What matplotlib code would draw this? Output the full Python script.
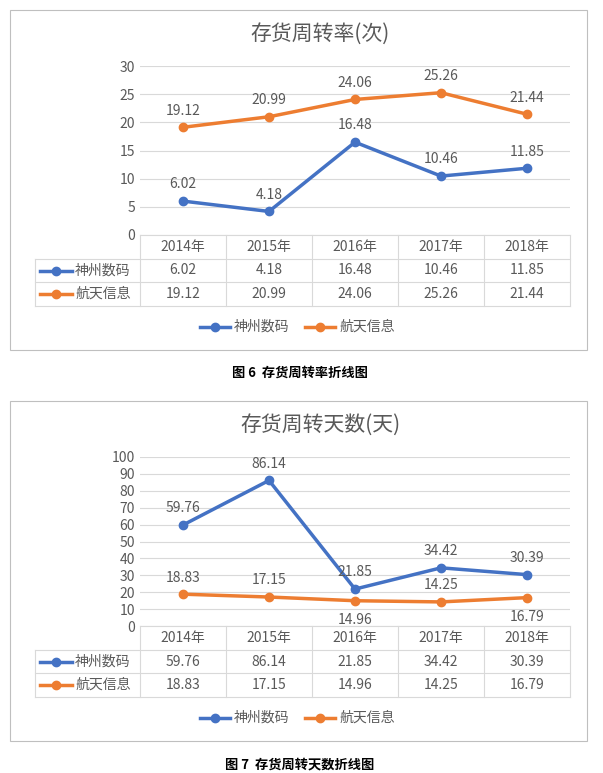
import matplotlib.pyplot as plt
from matplotlib import font_manager
from matplotlib.lines import Line2D

cjk = [f.name for f in font_manager.fontManager.ttflist if 'CJK' in f.name]
plt.rcParams['font.family'] = ['Noto Sans CJK SC'] + sorted(set(cjk)) + ['DejaVu Sans']

years = ['2014年', '2015年', '2016年', '2017年', '2018年']
series_names = ['神州数码', '航天信息']
turnover_sz = [6.02, 4.18, 16.48, 10.46, 11.85]
turnover_ht = [19.12, 20.99, 24.06, 25.26, 21.44]
days_sz = [59.76, 86.14, 21.85, 34.42, 30.39]
days_ht = [18.83, 17.15, 14.96, 14.25, 16.79]

BLUE = '#4472C4'
ORANGE = '#ED7D31'
GRID = '#D9D9D9'
TXT = '#595959'

W, H = 603, 773
fig = plt.figure(figsize=(W / 100, H / 100), dpi=100)


def fx(x):
    return x / W


def fy(y):
    return 1 - y / H


def line(x0, y0, x1, y1, c=GRID, lw=0.8):
    fig.add_artist(Line2D([fx(x0), fx(x1)], [fy(y0), fy(y1)], color=c, lw=lw))


def chart(top, title, s1, s2, ymax, ystep, below2, caption):
    # outer frame
    x0, x1 = 10, 587
    fig.add_artist(plt.Rectangle((fx(x0), fy(top + 340)), fx(x1 - x0), 340 / H,
                                 fill=False, ec='#BFBFBF', lw=0.8))
    fig.text(fx(320), fy(top + 24), title, ha='center', va='center', fontsize=15, color=TXT)
    pt, pb = top + 56, top + 225
    px0, px1 = 140, 570
    ax = fig.add_axes([fx(px0), fy(pb), fx(px1 - px0), (pb - pt) / H])
    ax.set_xlim(-0.5, 4.5)
    ax.set_ylim(0, ymax)
    ax.set_yticks(range(0, ymax + 1, ystep))
    ax.yaxis.grid(True, color=GRID, lw=0.8)
    ax.set_axisbelow(True)
    for s in ax.spines.values():
        s.set_visible(False)
    ax.set_xticks([])
    ax.tick_params(axis='y', length=0, labelsize=10, labelcolor=TXT)
    xs = range(len(years))
    for vals, col, below in [(s1, BLUE, set()), (s2, ORANGE, below2)]:
        ax.plot(xs, vals, color=col, lw=2.5, marker='o', ms=6)
        for i, v in enumerate(vals):
            off = -14 if i in below else 12
            ax.annotate(f'{v:.2f}', (i, v), xytext=(0, off), textcoords='offset points',
                        ha='center', va='center', fontsize=10, color=TXT)
    # data table
    r0, r1, r2, r3 = pb, pb + 24, pb + 47, pb + 71
    tl = 35
    line(px0, r0, px1, r0)
    for y in (r1, r2, r3):
        line(tl, y, px1, y)
    cw = (px1 - px0) / 5
    for k in range(6):
        line(px0 + k * cw, r0, px0 + k * cw, r3)
    line(tl, r1, tl, r3)
    for k, yr in enumerate(years):
        cx = px0 + (k + 0.5) * cw
        fig.text(fx(cx), fy((r0 + r1) / 2), yr, ha='center', va='center', fontsize=10, color=TXT)
        fig.text(fx(cx), fy((r1 + r2) / 2), f'{s1[k]:.2f}', ha='center', va='center', fontsize=10, color=TXT)
        fig.text(fx(cx), fy((r2 + r3) / 2), f'{s2[k]:.2f}', ha='center', va='center', fontsize=10, color=TXT)
    for (ya, yb), col, nm in [((r1, r2), BLUE, series_names[0]), ((r2, r3), ORANGE, series_names[1])]:
        ym = (ya + yb) / 2
        fig.add_artist(Line2D([fx(40), fx(72)], [fy(ym)] * 2, color=col, lw=2.5))
        fig.add_artist(Line2D([fx(56)], [fy(ym)], color=col, marker='o', ms=6))
        fig.text(fx(75), fy(ym), nm, ha='left', va='center', fontsize=10, color=TXT)
    # legend
    ly = top + 317
    for lx, col, nm in [(200, BLUE, series_names[0]), (305, ORANGE, series_names[1])]:
        fig.add_artist(Line2D([fx(lx), fx(lx + 30)], [fy(ly)] * 2, color=col, lw=2.5))
        fig.add_artist(Line2D([fx(lx + 15)], [fy(ly)], color=col, marker='o', ms=6))
        fig.text(fx(lx + 34), fy(ly), nm, ha='left', va='center', fontsize=10, color=TXT)
    fig.text(fx(300), fy(top + 363), caption, ha='center', va='center', fontsize=9.5,
             fontweight='bold', color='black')


chart(10, '存货周转率(次)', turnover_sz, turnover_ht, 30, 5, set(), '图 6  存货周转率折线图')
chart(401, '存货周转天数(天)', days_sz, days_ht, 100, 10, {2, 4}, '图 7  存货周转天数折线图')

fig.savefig('out.png', dpi=100)
